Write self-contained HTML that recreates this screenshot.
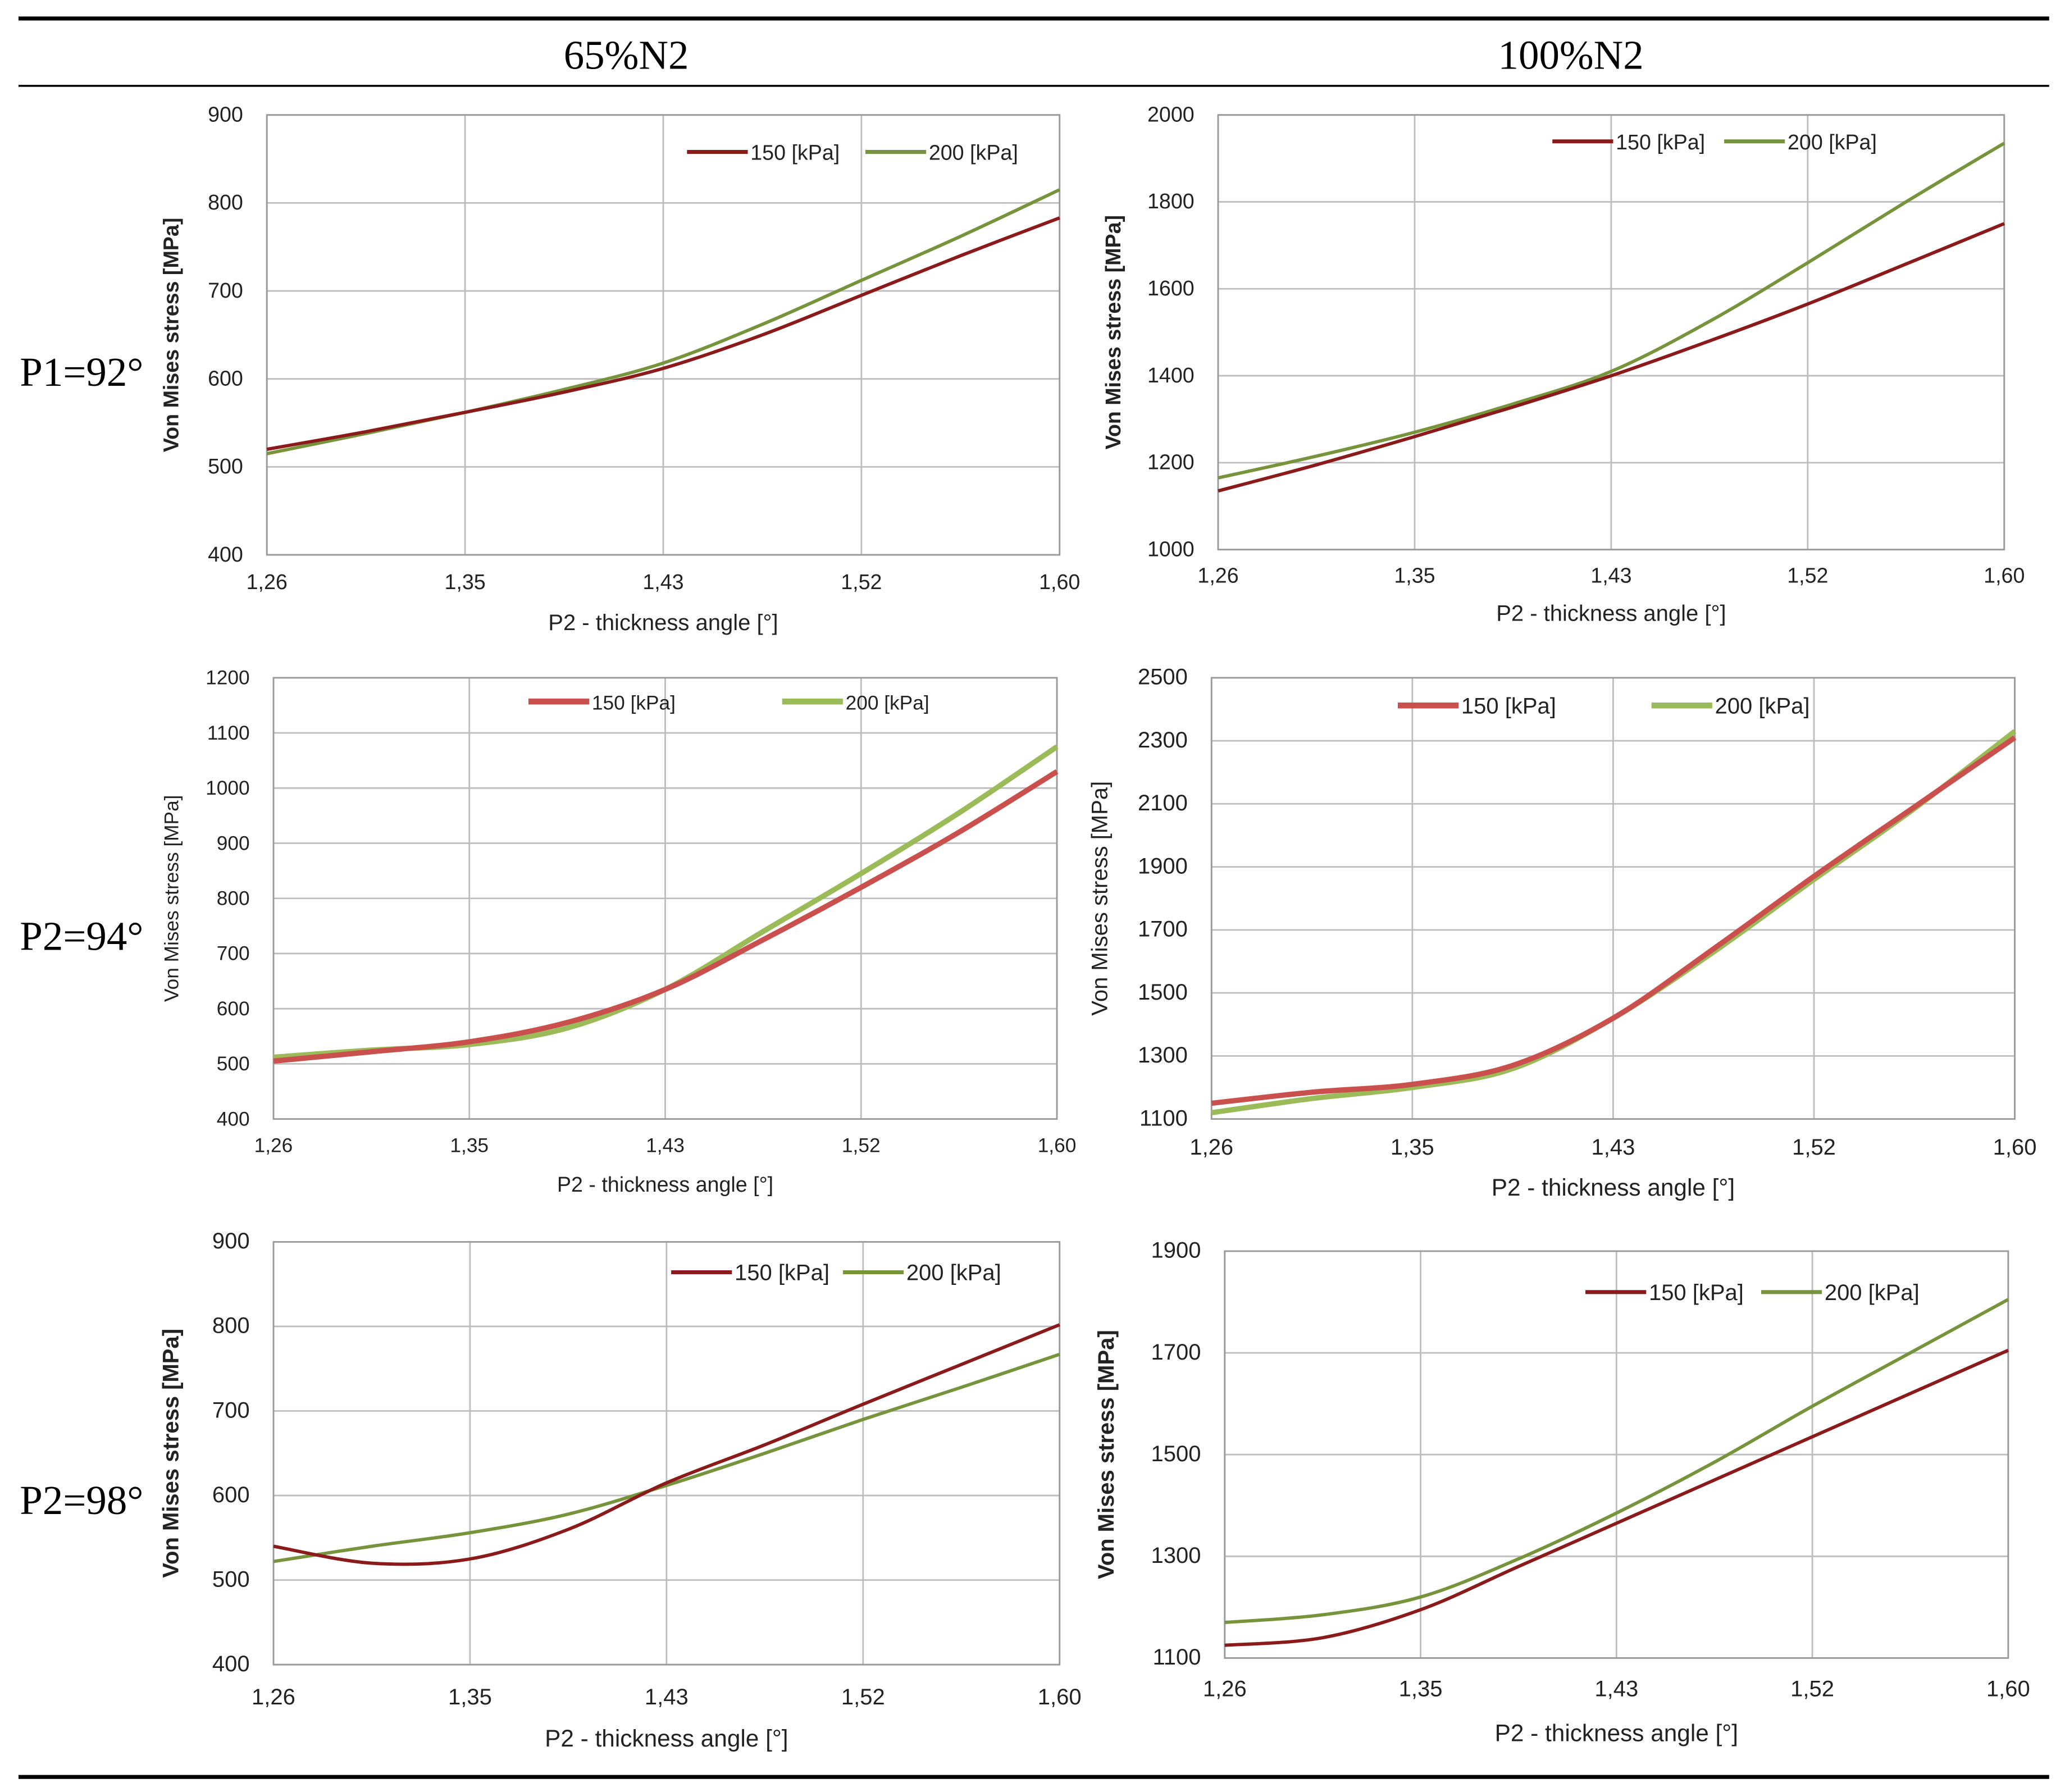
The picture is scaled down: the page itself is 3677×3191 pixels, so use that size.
<!DOCTYPE html>
<html><head><meta charset="utf-8"><style>
html,body{margin:0;padding:0;background:#fff;}
svg{display:block;}
</style></head><body>
<svg id="fig" width="3677" height="3191" viewBox="0 0 1563 1356.4" preserveAspectRatio="none" xmlns="http://www.w3.org/2000/svg">
<rect x="0" y="0" width="1563" height="1357" fill="#fff"/>
<line x1="14" y1="14" x2="1551" y2="14" stroke="#000" stroke-width="3"/>
<line x1="14" y1="65" x2="1551" y2="65" stroke="#000" stroke-width="1.5"/>
<line x1="14" y1="1345" x2="1551" y2="1345" stroke="#000" stroke-width="3"/>
<text x="474" y="52" text-anchor="middle" font-family="Liberation Serif, serif" font-size="31">65%N2</text>
<text x="1189" y="52" text-anchor="middle" font-family="Liberation Serif, serif" font-size="31">100%N2</text>
<text x="15" y="292" font-family="Liberation Serif, serif" font-size="31">P1=92°</text>
<text x="15" y="719" font-family="Liberation Serif, serif" font-size="31">P2=94°</text>
<text x="15" y="1146" font-family="Liberation Serif, serif" font-size="31">P2=98°</text>
</svg>
<script>
const categories = ["1,26","1,35","1,43","1,52","1,60"];
const xIdx = [0,0.5,1,1.5,2,2.5,3,3.5,4];
// chart 1 (65%N2, P1=92)
const c1Ticks = [400,500,600,700,800,900];
const c1S150 = [520,540,562,585,612,650,695,740,783];
const c1S200 = [515,538,562,588,618,662,712,762,815];
// chart 2 (100%N2, P1=92)
const c2Ticks = [1000,1200,1400,1600,1800,2000];
const c2S150 = [1135,1195,1260,1328,1400,1480,1565,1657,1750];
const c2S200 = [1165,1215,1270,1335,1410,1525,1660,1800,1935];
// chart 3 (65%N2, P2=94)
const c3Ticks = [400,500,600,700,800,900,1000,1100,1200];
const c3S150 = [505,522,540,575,635,725,820,920,1030];
const c3S200 = [512,525,535,565,635,740,845,955,1075];
// chart 4 (100%N2, P2=94)
const c4Ticks = [1100,1300,1500,1700,1900,2100,2300,2500];
const c4S150 = [1150,1185,1210,1270,1420,1640,1870,2090,2310];
const c4S200 = [1120,1165,1200,1260,1420,1630,1860,2085,2330];
// chart 5 (65%N2, P2=98)
const c5Ticks = [400,500,600,700,800,900];
const c5S150 = [540,520,525,560,615,660,708,755,802];
const c5S200 = [522,540,556,578,612,650,690,728,767];
// chart 6 (100%N2, P2=98)
const c6Ticks = [1100,1300,1500,1700,1900];
const c6S150 = [1125,1140,1195,1280,1365,1450,1535,1620,1705];
const c6S200 = [1170,1185,1220,1295,1385,1485,1595,1700,1805];

const NS="http://www.w3.org/2000/svg";
const svg=document.getElementById('fig');
function mk(tag,attrs,parent){const e=document.createElementNS(NS,tag);for(const k in attrs)e.setAttribute(k,attrs[k]);(parent||svg).appendChild(e);return e;}

const charts=[
 {id:'c1',x0:202,x1:802,y0:87,y1:420,ticks:c1Ticks,a:c1S150,b:c1S200,xl:446,xt:477,yt:135,fs:16,lg:[520,115,655],dark:true,lw:2.5},
 {id:'c2',x0:922,x1:1517,y0:87,y1:416,ticks:c2Ticks,a:c2S150,b:c2S200,xl:441,xt:470,yt:848,fs:16,lg:[1175,107,1305],dark:true,lw:2.5},
 {id:'c3',x0:207,x1:800,y0:513,y1:847,ticks:c3Ticks,a:c3S150,b:c3S200,xl:872,xt:902,yt:135,fs:15,lg:[400,531,592],dark:false,lw:4},
 {id:'c4',x0:917,x1:1525,y0:513,y1:847,ticks:c4Ticks,a:c4S150,b:c4S200,xl:874,xt:905,yt:838,fs:17,lg:[1058,534,1250],dark:false,lw:4},
 {id:'c5',x0:207,x1:802,y0:940,y1:1260,ticks:c5Ticks,a:c5S150,b:c5S200,xl:1290,xt:1322,yt:135,fs:17,lg:[508,963,638],dark:true,lw:2.5},
 {id:'c6',x0:927,x1:1520,y0:947,y1:1255,ticks:c6Ticks,a:c6S150,b:c6S200,xl:1284,xt:1318,yt:843,fs:17,lg:[1200,978,1333],dark:true,lw:2.5}
];

function smooth(pts){let d='M'+pts[0][0]+','+pts[0][1];for(let i=0;i<pts.length-1;i++){const p0=pts[i-1]||pts[i],p1=pts[i],p2=pts[i+1],p3=pts[i+2]||p2;const c1x=p1[0]+(p2[0]-p0[0])/6,c1y=p1[1]+(p2[1]-p0[1])/6,c2x=p2[0]-(p3[0]-p1[0])/6,c2y=p2[1]-(p3[1]-p1[1])/6;d+=' C'+c1x+','+c1y+' '+c2x+','+c2y+' '+p2[0]+','+p2[1];}return d;}

charts.forEach(c=>{
 const g=mk('g',{});
 
 
 const ymin=c.ticks[0],ymax=c.ticks[c.ticks.length-1];
 const X=i=>c.x0+(c.x1-c.x0)*i/(categories.length-1);
 const Y=v=>c.y1-(v-ymin)/(ymax-ymin)*(c.y1-c.y0);
 const font='Liberation Sans, sans-serif';
 c.ticks.forEach(t=>{
  const l=mk('line',{x1:c.x0,x2:c.x1,y1:Y(t),y2:Y(t),stroke:'#bdbdbd','stroke-width':1.2},g);
  
  
  const tx=mk('text',{x:c.x0-18,y:Y(t)+5,'text-anchor':'end','font-family':font,'font-size':c.fs,fill:'#222'},g);
  
  
  tx.textContent=t;
 });
 categories.forEach((cat,i)=>{
  const l=mk('line',{x1:X(i),x2:X(i),y1:c.y0,y2:c.y1,stroke:'#bdbdbd','stroke-width':1.2},g);
  
  
  const tx=mk('text',{x:X(i),y:c.xl,'text-anchor':'middle','font-family':font,'font-size':c.fs,fill:'#222'},g);
  
  
  tx.textContent=cat;
 });
 const fr=mk('rect',{x:c.x0,y:c.y0,width:c.x1-c.x0,height:c.y1-c.y0,fill:'none',stroke:'#9a9a9a','stroke-width':1.2},g);
 
 
 const xt=mk('text',{x:(c.x0+c.x1)/2,y:c.xt,'text-anchor':'middle','font-family':font,'font-size':c.fs+1,fill:'#222'},g);
 
 
 xt.textContent='P2 - thickness angle [°]';
 const ym=(c.y0+c.y1)/2;
 const yt=mk('text',{x:c.yt,y:ym,'text-anchor':'middle','font-family':font,'font-size':c.fs,'font-weight':c.dark?'bold':'normal',fill:'#222',transform:'rotate(-90 '+c.yt+' '+ym+')'},g);
 
 
 yt.textContent='Von Mises stress [MPa]';
 const col150=c.dark?'#8b1a1a':'#c9504d', col200=c.dark?'#77933c':'#9bbb59';
 [[c.b,col200,'series-200kpa'],[c.a,col150,'series-150kpa']].forEach(([arr,col,nm])=>{
  const pts=arr.map((v,i)=>[X(xIdx[i]),Y(v)]);
  const p=mk('path',{d:smooth(pts),fill:'none',stroke:col,'stroke-width':c.lw,'stroke-linejoin':'round'},g);
  
  
 });
 [[c.lg[0],col150,'150 [kPa]','legend-entry-150'],[c.lg[2],col200,'200 [kPa]','legend-entry-200']].forEach(([lx,col,lab,nm])=>{
  const lg=mk('g',{},g);
  
  
  mk('line',{x1:lx,x2:lx+46,y1:c.lg[1],y2:c.lg[1],stroke:col,'stroke-width':c.lw+0.5},lg);
  const t=mk('text',{x:lx+48,y:c.lg[1]+6,'font-family':font,'font-size':c.fs,fill:'#222'},lg);
  t.textContent=lab;
 });
});
</script>
</body></html>
